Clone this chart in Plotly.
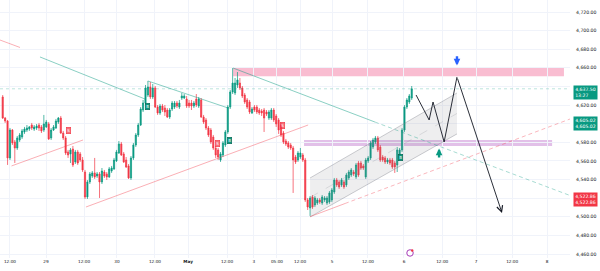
import plotly.graph_objects as go

# ---------------- data ----------------
opens = [4628.7, 4606.1, 4602.9, 4563.2, 4593.2, 4580.4, 4573.9, 4582.5, 4585.7, 4591.1,
 4593.2, 4594.3, 4598.6, 4594.3, 4595.4, 4598.6, 4596.5, 4593.2, 4596.5, 4599.7,
 4584.7, 4593.2, 4595.4, 4601.8, 4606.1, 4590.0, 4584.7, 4569.6, 4567.5, 4572.8,
 4558.9, 4569.6, 4567.5, 4561.0, 4548.1, 4521.3, 4537.4, 4543.8, 4547.1, 4543.8,
 4546.0, 4537.4, 4548.1, 4546.0, 4542.8, 4549.2, 4551.4, 4560.0, 4568.5, 4578.2,
 4567.5, 4561.0, 4554.6, 4541.7, 4563.2, 4577.1, 4587.9, 4598.6, 4614.7, 4622.2,
 4630.8, 4639.4, 4628.7, 4638.4, 4617.9, 4611.5, 4619.0, 4616.9, 4614.7, 4607.2,
 4615.8, 4617.9, 4622.2, 4617.9, 4627.6, 4627.6, 4626.5, 4622.2, 4622.2, 4619.0,
 4626.5, 4619.0, 4625.5, 4607.2, 4604.0, 4595.4, 4593.2, 4585.7, 4573.9, 4571.8,
 4561.0, 4566.4, 4577.1, 4591.1, 4617.9, 4634.1, 4633.0, 4641.6, 4643.7, 4638.4,
 4630.8, 4625.5, 4623.3, 4611.5, 4617.9, 4617.9, 4614.7, 4613.6, 4614.7, 4612.6,
 4606.1, 4606.1, 4614.7, 4608.3, 4604.0, 4598.6, 4590.0, 4581.4, 4579.3, 4577.1,
 4573.9, 4564.2, 4561.0, 4564.2, 4566.4, 4561.0, 4518.1, 4509.5, 4521.3, 4512.7,
 4514.8, 4518.1, 4514.8, 4518.1, 4514.8, 4515.9, 4518.1, 4526.6, 4539.5, 4537.4,
 4534.2, 4537.4, 4534.2, 4541.7, 4544.9, 4548.1, 4542.8, 4557.8, 4557.8, 4554.6,
 4542.8, 4560.0, 4563.2, 4575.0, 4580.4, 4584.7, 4575.0, 4564.2, 4563.2, 4558.9,
 4561.0, 4561.0, 4557.8, 4555.7, 4563.2, 4571.8, 4593.2, 4617.9, 4623.3, 4627.6]

highs = [4630.8, 4607.2, 4604.0, 4595.4, 4594.3, 4582.5, 4586.8, 4590.0, 4594.3, 4596.5,
 4598.6, 4597.5, 4600.8, 4598.6, 4599.7, 4600.8, 4598.6, 4609.4, 4604.0, 4601.8,
 4595.4, 4598.6, 4605.1, 4607.2, 4608.3, 4592.2, 4586.8, 4571.8, 4573.9, 4576.1,
 4571.8, 4571.8, 4569.6, 4564.2, 4550.3, 4539.5, 4548.1, 4549.2, 4563.2, 4548.1,
 4548.1, 4552.4, 4550.3, 4548.1, 4553.5, 4554.6, 4563.2, 4571.8, 4581.4, 4580.4,
 4569.6, 4564.2, 4556.7, 4565.3, 4579.3, 4590.0, 4600.8, 4617.9, 4625.5, 4641.6,
 4645.9, 4644.8, 4642.7, 4640.5, 4620.1, 4621.2, 4621.2, 4620.1, 4616.9, 4616.9,
 4624.4, 4624.4, 4624.4, 4625.5, 4633.0, 4631.9, 4629.8, 4625.5, 4625.5, 4624.4,
 4631.9, 4628.7, 4627.6, 4609.4, 4606.1, 4597.5, 4595.4, 4587.9, 4576.1, 4573.9,
 4569.6, 4581.4, 4593.2, 4620.1, 4636.2, 4659.8, 4649.1, 4655.5, 4649.1, 4640.5,
 4633.0, 4627.6, 4625.5, 4617.9, 4620.1, 4620.1, 4616.9, 4615.8, 4616.9, 4614.7,
 4614.7, 4616.9, 4616.9, 4610.4, 4606.1, 4600.8, 4592.2, 4583.6, 4581.4, 4579.3,
 4576.1, 4566.4, 4570.7, 4573.9, 4568.5, 4563.2, 4520.2, 4522.3, 4523.4, 4522.3,
 4520.2, 4520.2, 4523.4, 4522.3, 4522.3, 4527.7, 4530.9, 4541.7, 4541.7, 4539.5,
 4541.7, 4539.5, 4547.1, 4550.3, 4552.4, 4550.3, 4557.8, 4560.0, 4560.0, 4556.7,
 4563.2, 4565.3, 4581.4, 4584.7, 4586.8, 4586.8, 4577.1, 4566.4, 4565.3, 4563.2,
 4563.2, 4563.2, 4560.0, 4575.0, 4573.9, 4595.4, 4620.1, 4627.6, 4631.9, 4640.5]

lows = [4605.1, 4600.8, 4555.7, 4561.0, 4577.1, 4557.8, 4571.8, 4580.4, 4583.6, 4589.0,
 4591.1, 4592.2, 4593.2, 4592.2, 4593.2, 4592.2, 4590.0, 4591.1, 4595.4, 4582.5,
 4582.5, 4592.2, 4594.3, 4599.7, 4589.0, 4582.5, 4566.4, 4563.2, 4557.8, 4553.5,
 4556.7, 4555.7, 4558.9, 4548.1, 4519.1, 4519.1, 4535.2, 4541.7, 4540.6, 4541.7,
 4520.2, 4535.2, 4541.7, 4539.5, 4541.7, 4547.1, 4550.3, 4558.9, 4567.5, 4565.3,
 4557.8, 4552.4, 4540.6, 4539.5, 4561.0, 4575.0, 4585.7, 4597.5, 4612.6, 4620.1,
 4628.7, 4626.5, 4626.5, 4616.9, 4609.4, 4609.4, 4612.6, 4608.3, 4606.1, 4605.1,
 4613.6, 4615.8, 4616.9, 4615.8, 4625.5, 4626.5, 4616.9, 4616.9, 4614.7, 4616.9,
 4617.9, 4616.9, 4606.1, 4599.7, 4593.2, 4585.7, 4578.2, 4571.8, 4563.2, 4561.0,
 4558.9, 4564.2, 4575.0, 4589.0, 4615.8, 4631.9, 4630.8, 4638.4, 4636.2, 4627.6,
 4621.2, 4615.8, 4610.4, 4610.4, 4612.6, 4610.4, 4609.4, 4608.3, 4591.1, 4608.3,
 4604.0, 4604.0, 4601.8, 4596.5, 4589.0, 4585.7, 4578.2, 4576.1, 4572.8, 4571.8,
 4525.6, 4556.7, 4558.9, 4562.1, 4558.9, 4515.9, 4507.3, 4500.9, 4508.4, 4510.5,
 4512.7, 4513.8, 4512.7, 4515.9, 4512.7, 4513.8, 4515.9, 4524.5, 4532.0, 4529.9,
 4532.0, 4529.9, 4532.0, 4539.5, 4542.8, 4543.8, 4540.6, 4542.8, 4550.3, 4550.3,
 4540.6, 4557.8, 4561.0, 4572.8, 4578.2, 4569.6, 4558.9, 4558.9, 4556.7, 4556.7,
 4555.7, 4551.4, 4547.1, 4548.1, 4561.0, 4569.6, 4591.1, 4615.8, 4621.2, 4625.5]

closes = [4606.1, 4602.9, 4563.2, 4593.2, 4579.3, 4573.9, 4584.7, 4587.9, 4592.2, 4594.3,
 4595.4, 4596.5, 4595.4, 4596.5, 4597.5, 4595.4, 4592.2, 4599.7, 4601.8, 4583.6,
 4593.2, 4596.5, 4602.9, 4606.1, 4590.0, 4584.7, 4568.5, 4566.4, 4571.8, 4555.7,
 4569.6, 4557.8, 4561.0, 4550.3, 4521.3, 4537.4, 4546.0, 4547.1, 4542.8, 4546.0,
 4537.4, 4549.2, 4543.8, 4542.8, 4551.4, 4552.4, 4561.0, 4569.6, 4578.2, 4566.4,
 4558.9, 4553.5, 4541.7, 4563.2, 4577.1, 4587.9, 4598.6, 4615.8, 4622.2, 4638.4,
 4639.4, 4628.7, 4638.4, 4617.9, 4611.5, 4619.0, 4614.7, 4612.6, 4607.2, 4614.7,
 4622.2, 4622.2, 4619.0, 4622.2, 4629.8, 4629.8, 4619.0, 4619.0, 4619.0, 4622.2,
 4620.1, 4626.5, 4607.2, 4601.8, 4595.4, 4587.9, 4580.4, 4573.9, 4566.4, 4564.2,
 4567.5, 4579.3, 4591.1, 4617.9, 4634.1, 4643.7, 4643.7, 4647.0, 4638.4, 4629.8,
 4623.3, 4617.9, 4612.6, 4615.8, 4614.7, 4612.6, 4611.5, 4611.5, 4606.1, 4610.4,
 4612.6, 4614.7, 4604.0, 4599.7, 4593.2, 4587.9, 4580.4, 4578.2, 4575.0, 4573.9,
 4561.0, 4558.9, 4568.5, 4568.5, 4561.0, 4518.1, 4510.5, 4520.2, 4510.5, 4520.2,
 4518.1, 4515.9, 4521.3, 4520.2, 4520.2, 4525.6, 4528.8, 4539.5, 4534.2, 4532.0,
 4539.5, 4532.0, 4544.9, 4548.1, 4550.3, 4546.0, 4555.7, 4544.9, 4552.4, 4552.4,
 4561.0, 4563.2, 4579.3, 4582.5, 4584.7, 4571.8, 4561.0, 4561.0, 4558.9, 4561.0,
 4557.8, 4553.5, 4553.5, 4571.8, 4571.8, 4593.2, 4617.9, 4625.5, 4629.8, 4637.5]

bar_index = list(range(len(opens)))

# time-axis labels (positions in bar units)
x_tick_pos = [3.0, 17.9, 33.6, 47.2, 62.9, 76.6, 92.7, 103.8, 113.3, 122.9,
              136.1, 150.9, 165.8, 181.6, 195.6, 210.5, 224.9]
x_tick_text = ["12:00", "29", "12:00", "30", "12:00", "<b>May</b>", "12:00", "3", "05:00", "12:00",
               "5", "12:00", "6", "12:00", "7", "12:00", "8"]
price_ticks = [4460, 4480, 4500, 4520, 4540, 4560, 4580, 4600, 4620, 4640, 4660, 4680, 4700, 4720]
hidden_ticks = [4520, 4600, 4640]   # covered by the price labels in the reference

last_price = 4637.50
countdown = "13:27"
level_up = 4605.02
level_down = 4522.86

# drawings: (bar, price) anchors
red_tl_top = [(-1.12, 4689.9), (7.15, 4681.9)]
teal_tl_1 = [(15.4, 4671.7), (58.8, 4626.5)]
red_tl_1 = [(3.64, 4554.6), (33.2, 4582.5)]
red_tl_2 = [(34.4, 4510.5), (126.2, 4598.6)]
teal_tl_2 = [(60.0, 4645.9), (93.1, 4616.9)]
teal_tl_3 = [(95.2, 4659.8), (153.8, 4601.8)]
teal_tl_3_ext = [(153.8, 4601.8), (234.4, level_down)]
red_tl_3 = [(127.0, 4500.1), (141.4, 4514.2)]
red_tl_3_ext = [(141.4, 4514.2), (234.4, level_up)]
channel_upper = [(127.0, 4541.7), (187.7, 4633.0)]
channel_lower = [(127.0, 4499.8), (187.7, 4589.0)]
pink_zone = dict(x0=95.2, x1=231.9, y0=4651.0, y1=4660.7)
purple_zone = dict(x0=124.5, x1=227.0, y0=4576.1, y1=4582.5)
proj_path = [(170.8, 4630.8), (176.2, 4604.0), (177.8, 4623.3), (182.4, 4580.4), (187.7, 4650.2)]
proj_end = (206.3, 4504.1)
blue_arrow = dict(x=187.7, tip=4662.6, tail=4674.0)
green_arrow = dict(x=180.3, tip=4573.3, tail=4562.0)
signals = [("S", 27.0, 4593.2), ("B", 60.0, 4619.0), ("S", 88.6, 4578.2),
           ("B", 93.7, 4582.0), ("S", 115.8, 4598.6), ("B", 164.4, 4564.2)]
event_icon = (168.3, 4461.1)

UP = "#089981"
DN = "#f23645"
TEAL_L = "rgba(8,153,129,0.6)"
RED_L = "rgba(242,54,69,0.5)"
GRID = "#f0f3fa"

fig = go.Figure()

# zones
fig.add_shape(type="rect", xref="x", yref="y", **pink_zone,
              fillcolor="rgba(240,98,146,0.42)", line=dict(width=0), layer="below")
fig.add_shape(type="rect", xref="x", yref="y", **purple_zone,
              fillcolor="rgba(186,104,200,0.42)", line=dict(width=0), layer="below")

# channel
cx = [channel_upper[0][0], channel_upper[1][0], channel_lower[1][0], channel_lower[0][0], channel_upper[0][0]]
cy = [channel_upper[0][1], channel_upper[1][1], channel_lower[1][1], channel_lower[0][1], channel_upper[0][1]]
fig.add_trace(go.Scatter(x=cx, y=cy, fill="toself", fillcolor="rgba(120,123,134,0.13)",
                         mode="lines", line=dict(width=0), hoverinfo="skip"))
for seg in (channel_upper, channel_lower):
    fig.add_trace(go.Scatter(x=[p[0] for p in seg], y=[p[1] for p in seg], mode="lines",
                             line=dict(color="rgba(120,123,134,0.55)", width=0.7), hoverinfo="skip"))
mid = [((channel_upper[0][0]), (channel_upper[0][1] + channel_lower[0][1]) / 2),
       ((channel_upper[1][0]), (channel_upper[1][1] + channel_lower[1][1]) / 2)]
fig.add_trace(go.Scatter(x=[p[0] for p in mid], y=[p[1] for p in mid], mode="lines",
                         line=dict(color="rgba(120,123,134,0.35)", width=0.6, dash="dash"), hoverinfo="skip"))


def seg_trace(seg, color, dash="solid", width=0.8):
    fig.add_trace(go.Scatter(x=[p[0] for p in seg], y=[p[1] for p in seg], mode="lines",
                             line=dict(color=color, width=width, dash=dash), hoverinfo="skip"))


seg_trace(red_tl_top, RED_L)
seg_trace(teal_tl_1, TEAL_L)
seg_trace(red_tl_1, RED_L)
seg_trace(red_tl_2, RED_L)
seg_trace(teal_tl_2, TEAL_L)
seg_trace(teal_tl_3, TEAL_L)
seg_trace(teal_tl_3_ext, "rgba(8,153,129,0.45)", dash="4px,3px")
seg_trace(red_tl_3, RED_L)
seg_trace(red_tl_3_ext, "rgba(242,54,69,0.45)", dash="4px,3px")

# current price line
fig.add_shape(type="line", xref="paper", x0=0, x1=1, yref="y", y0=last_price, y1=last_price,
              line=dict(color="rgba(8,153,129,0.45)", width=0.6, dash="dot"))

# candles
fig.add_trace(go.Candlestick(x=bar_index, open=opens, high=highs, low=lows, close=closes,
                             increasing=dict(line=dict(color=UP, width=0.7), fillcolor=UP),
                             decreasing=dict(line=dict(color=DN, width=0.7), fillcolor=DN),
                             whiskerwidth=0, hoverinfo="skip"))

# projection path
seg_trace(proj_path, "#131722", width=0.9)
fig.add_annotation(x=proj_end[0], y=proj_end[1], ax=proj_path[-1][0], ay=proj_path[-1][1],
                   xref="x", yref="y", axref="x", ayref="y", text="", showarrow=True,
                   arrowhead=5, arrowsize=1.3, arrowwidth=0.9, arrowcolor="#131722")

# blue / green arrows
fig.add_annotation(x=blue_arrow["x"], y=blue_arrow["tip"], ax=blue_arrow["x"], ay=blue_arrow["tail"],
                   xref="x", yref="y", axref="x", ayref="y", text="", showarrow=True,
                   arrowhead=2, arrowsize=0.55, arrowwidth=2.4, arrowcolor="#2962ff")
fig.add_annotation(x=green_arrow["x"], y=green_arrow["tip"], ax=green_arrow["x"], ay=green_arrow["tail"],
                   xref="x", yref="y", axref="x", ayref="y", text="", showarrow=True,
                   arrowhead=2, arrowsize=0.55, arrowwidth=2.4, arrowcolor=UP)

# signal markers
for lab, sx, sy in signals:
    if lab == "B":
        bg, bd = UP, "#05614f"
    else:
        bg, bd = "rgba(242,54,69,0.7)", DN
    fig.add_annotation(x=sx, y=sy, xref="x", yref="y", text=lab, showarrow=False,
                       font=dict(size=4, color="white", family="DejaVu Sans"),
                       bgcolor=bg, bordercolor=bd, borderwidth=0.6, borderpad=0.6)

# event icon
fig.add_trace(go.Scatter(x=[event_icon[0]], y=[event_icon[1]], mode="markers",
                         marker=dict(size=6.5, color="white", line=dict(color="#9c27b0", width=0.9)),
                         hoverinfo="skip", cliponaxis=False))
fig.add_trace(go.Scatter(x=[event_icon[0] + 0.9], y=[event_icon[1] + 2.6], mode="markers",
                         marker=dict(size=2.4, color=DN), hoverinfo="skip", cliponaxis=False))

# right-side price labels
for txt, yv, col in [(f"{last_price:,.2f}<br>{countdown}", last_price, UP),
                     (f"{level_up:,.2f}<br>{level_up:,.2f}", level_up, UP),
                     (f"{level_down:,.2f}<br>{level_down:,.2f}", level_down, DN)]:
    fig.add_annotation(xref="paper", x=1, xanchor="left", xshift=3, y=yv, yref="y",
                       yanchor="top", yshift=3.5, text=txt, showarrow=False, align="left",
                       bgcolor=col, borderpad=1.2, width=21,
                       font=dict(size=4.6, color="white", family="DejaVu Sans"))

fig.update_layout(
    width=600, height=271, margin=dict(l=0, r=30, t=0, b=13),
    paper_bgcolor="white", plot_bgcolor="white", showlegend=False,
    xaxis=dict(range=[-1.12, 234.4], tickmode="array", tickvals=x_tick_pos, ticktext=x_tick_text,
               showgrid=True, gridcolor=GRID, gridwidth=1, zeroline=False, showline=False,
               ticks="", tickfont=dict(size=4.2, color="#131722", family="DejaVu Sans"),
               rangeslider=dict(visible=False), fixedrange=True),
    yaxis=dict(range=[4455.7, 4732.9], side="right", tickmode="array", tickvals=price_ticks,
               ticktext=["" if v in hidden_ticks else f"{v:,.2f}" for v in price_ticks],
               showgrid=True, gridcolor=GRID,
               zeroline=False, showline=False, ticks="", ticklabelstandoff=5,
               tickfont=dict(size=4.6, color="#131722", family="DejaVu Sans"), fixedrange=True),
)

fig.write_html("out.html")
